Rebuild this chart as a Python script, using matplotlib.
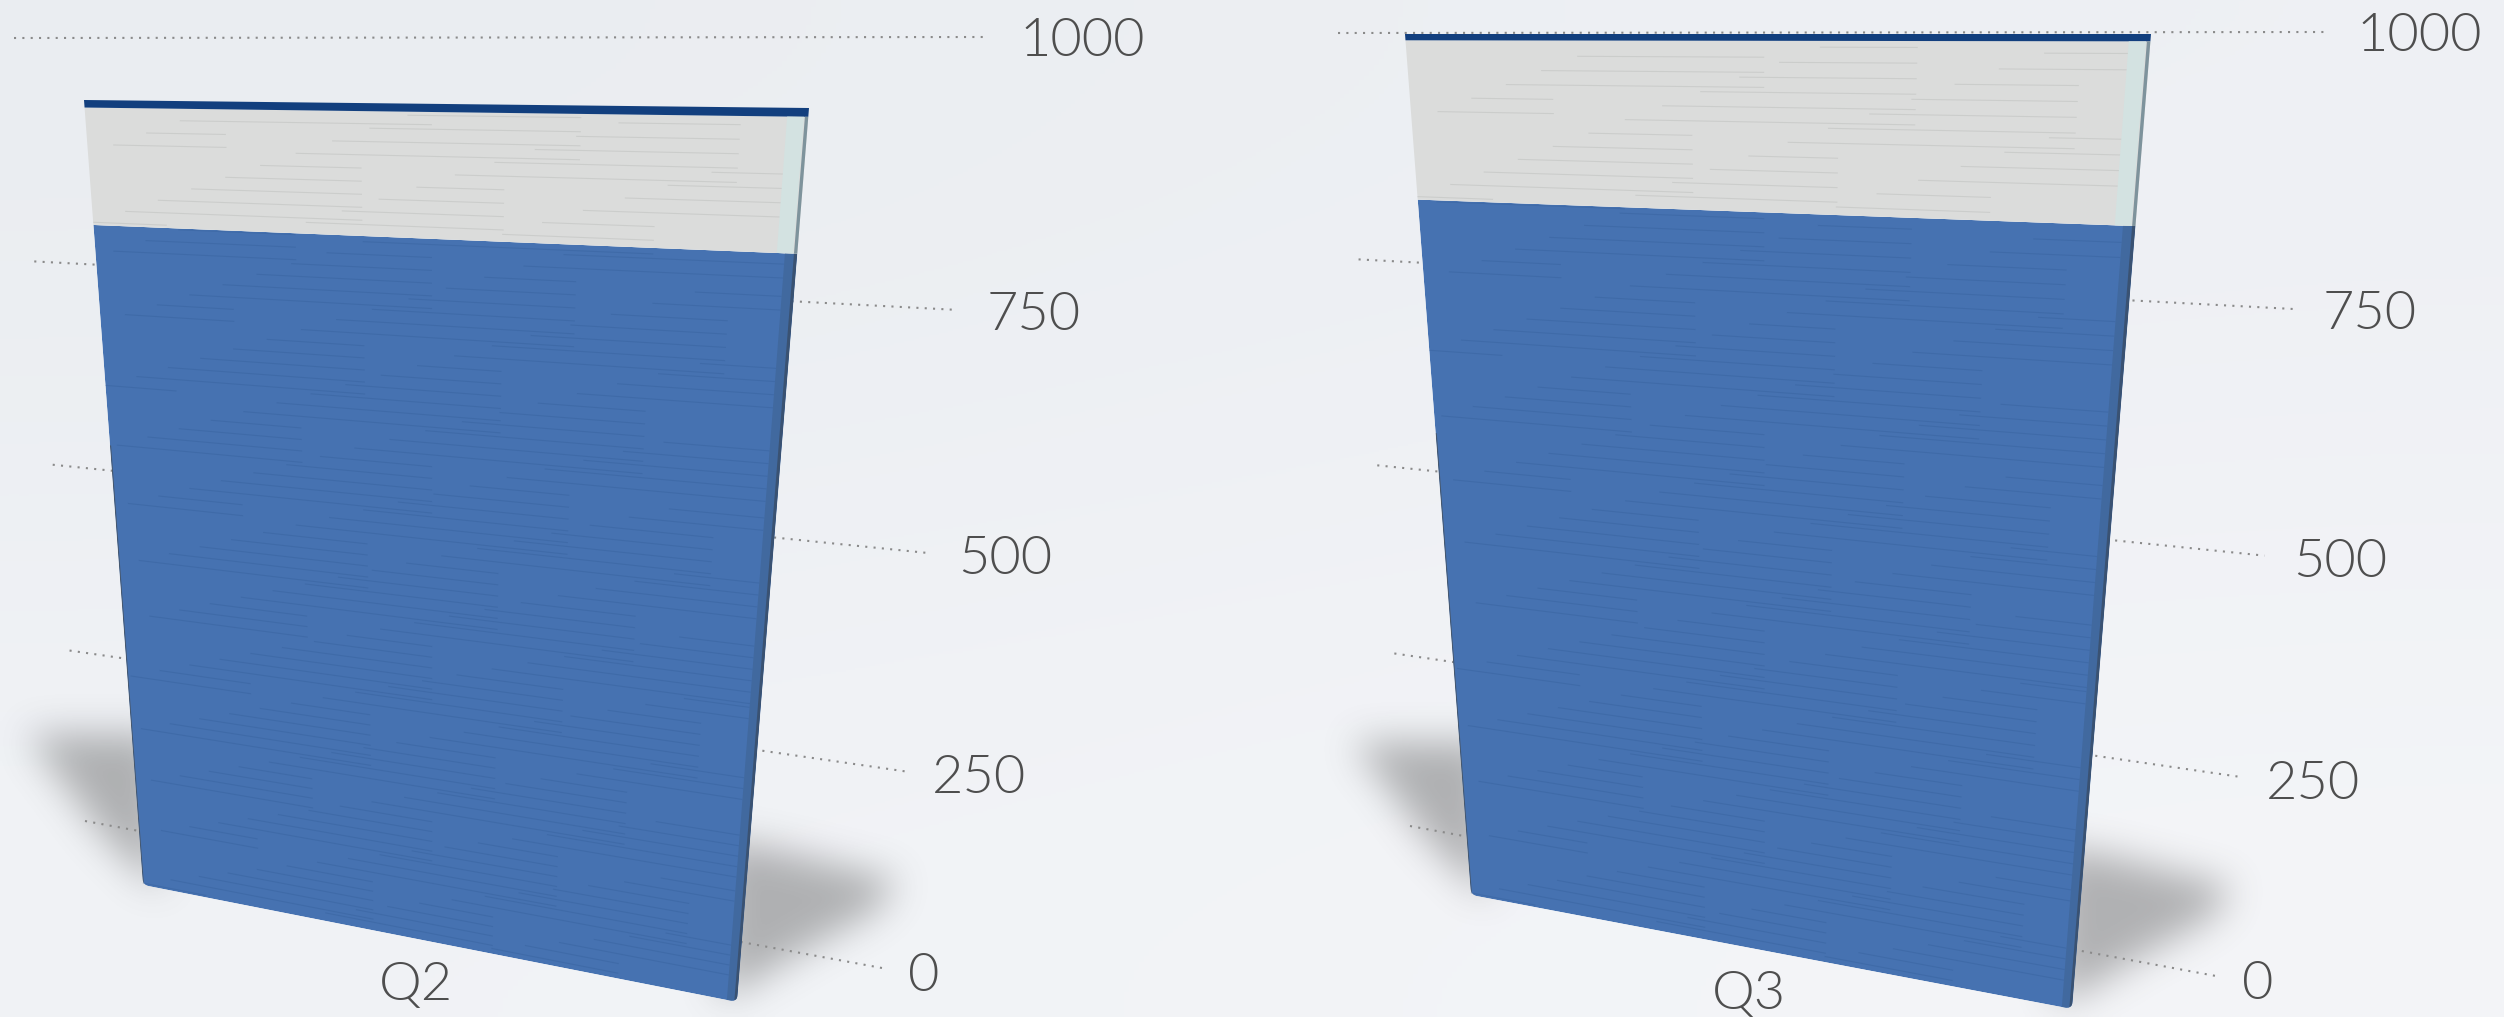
import numpy as np
import matplotlib
matplotlib.use("Agg")
import matplotlib.pyplot as plt
from matplotlib.path import Path
from matplotlib.transforms import Transform

# ---- data ----
categories = ["Q2", "Q3"]
blue_values = [864, 837]
grey_values = [128, 157]
dark_values = [8, 6]
tick_values = [0, 250, 500, 750, 1000]

# ---- perspective planes: (bottom-left, bottom-right, top-right, top-left) in pixels ----
bar_planes = [
    [(143, 885), (737, 1002), (809, 108), (84, 100)],
    [(1471, 895), (2072, 1009), (2151, 34), (1405, 34)],
]
wall_planes = [
    [(85, 821), (882, 968), (989, 37), (14, 38)],
    [(1410, 826), (2216, 976), (2325, 32), (1338, 33)],
]

W, H = 2504, 1017
BLUE, GREY, DARK = "#4672B1", "#DBDCDB", "#123F7E"
TEXT = "#4E4E4E"


class Homography(Transform):
    input_dims = 2
    output_dims = 2
    is_separable = False
    has_inverse = False

    def __init__(self, dst, vmax=1000.0):
        super().__init__()
        src = [(0, 0), (1, 0), (1, vmax), (0, vmax)]
        A, b = [], []
        for (x, y), (X, Y) in zip(src, dst):
            A.append([x, y, 1, 0, 0, 0, -x * X, -y * X]); b.append(X)
            A.append([0, 0, 0, x, y, 1, -x * Y, -y * Y]); b.append(Y)
        self.m = np.append(np.linalg.solve(np.array(A, float), np.array(b, float)), 1).reshape(3, 3)

    def transform_non_affine(self, values):
        v = np.asarray(values, float)
        p = np.c_[v, np.ones(len(v))] @ self.m.T
        return p[:, :2] / p[:, 2:3]


def blurred_mask(poly, radius=18, step=4):
    xs = np.arange(0, W, step) + step / 2
    ys = np.arange(0, H, step) + step / 2
    gx, gy = np.meshgrid(xs, ys)
    mask = Path(poly).contains_points(np.c_[gx.ravel(), gy.ravel()]).reshape(gx.shape).astype(float)
    n = max(1, int(radius / step))
    kernel = np.ones(2 * n + 1) / (2 * n + 1)
    for _ in range(3):
        mask = np.apply_along_axis(np.convolve, 0, mask, kernel, "same")
        mask = np.apply_along_axis(np.convolve, 1, mask, kernel, "same")
    return mask


def rounded_bottom(top, ru=0.012, rv=9):
    """Outline of a slab with rounded lower corners, in bar coordinates."""
    verts = [(0, top), (0, rv), (0, 0), (ru, 0), (1 - ru, 0), (1, 0), (1, rv), (1, top), (0, top)]
    codes = [Path.MOVETO, Path.LINETO, Path.CURVE3, Path.CURVE3, Path.LINETO,
             Path.CURVE3, Path.CURVE3, Path.LINETO, Path.CLOSEPOLY]
    return Path(verts, codes)


plt.rcParams["font.family"] = ["Lato", "DejaVu Sans"]
fig = plt.figure(figsize=(W / 100, H / 100), dpi=100)
ax = fig.add_axes([0, 0, 1, 1])

# background wash
bg = np.array([[[234, 237, 241], [238, 240, 244]],
               [[241, 243, 246], [244, 245, 248]]], dtype=float) / 255
ax.imshow(bg, extent=(0, W, H, 0), interpolation="bicubic", aspect="auto", zorder=0)
ax.set_xlim(0, W)
ax.set_ylim(H, 0)
ax.axis("off")

# shadows (relative to each bar's lower corners)
for plane in bar_planes:
    (blx, bly), (brx, bry) = plane[0], plane[1]
    left = [(blx - 117, bly - 150), (blx + 15, bly - 150), (blx + 15, bly + 5), (blx - 45, bly - 55)]
    right = [(brx - 15, bry - 160), (brx + 60, bry - 145), (brx + 160, bry - 120),
             (brx + 140, bry - 90), (brx + 60, bry - 45), (brx - 15, bry)]
    for poly in (left, right):
        m = blurred_mask(poly)
        rgba = np.zeros(m.shape + (4,))
        rgba[..., :3] = 0.30
        rgba[..., 3] = m * 0.40
        ax.imshow(rgba, extent=(0, W, H, 0), interpolation="bilinear", aspect="auto", zorder=1)
ax.set_xlim(0, W)
ax.set_ylim(H, 0)

for i, cat in enumerate(categories):
    T_bar = Homography(bar_planes[i]) + ax.transData
    T_wall = Homography(wall_planes[i]) + ax.transData

    # dotted gridlines on the back wall with tick labels
    for v in tick_values:
        ax.plot([0, 1], [v, v], transform=T_wall, color="#8A8A8A", lw=1.5,
                ls=(0, (1, 3)), zorder=2)
        ax.annotate(str(v), xy=(1.018, v), xycoords=T_wall, xytext=(6.5, -3.5),
                    textcoords="offset points", color=TEXT, fontsize=39, fontweight=300,
                    ha="left", va="center", zorder=5, annotation_clip=False)

    # stacked bar
    blue, grey, dark = blue_values[i], grey_values[i], dark_values[i]
    clip = rounded_bottom(blue)
    parts = [
        ax.bar(0.5, blue, width=1, color=BLUE, lw=0, transform=T_bar, zorder=3),
        ax.bar(0.9925, blue, width=0.015, color="#41699F", lw=0, transform=T_bar, zorder=3.4),
        ax.bar(0.998, blue, width=0.004, color="#3A5272", lw=0, transform=T_bar, zorder=3.5),
        ax.bar(0.001, blue * 0.7, width=0.002, color="#46586E", lw=0, transform=T_bar, zorder=3.5),
    ]
    for container in parts:
        for patch in container:
            patch.set_clip_path(clip, transform=T_bar)
    ax.bar(0.5, grey, width=1, bottom=blue, color=GREY, lw=0, transform=T_bar, zorder=3)
    ax.bar(0.5, dark, width=1, bottom=blue + grey, color=DARK, lw=0, transform=T_bar, zorder=3)
    ax.bar(0.985, grey, width=0.02, bottom=blue, color="#D3E2E1", lw=0, transform=T_bar, zorder=3.4)
    ax.bar(0.998, grey, width=0.004, bottom=blue, color="#7E939C", lw=0, transform=T_bar, zorder=3.5)

    # woven streak texture on both segments
    for lo, hi, col, alpha in ((0, blue, "#2F5A94", 0.30), (blue, blue + grey, "#B9BBB9", 0.45)):
        levels = np.arange(lo + 3, hi - 1, 4.5)
        for k, v in enumerate(levels):
            start = (k * 0.618) % 0.9
            ax.hlines(v, start, min(start + 0.12 + (k * 0.382) % 0.3, 0.985), color=col,
                      lw=0.8, alpha=alpha, transform=T_bar, zorder=3.2)

    # category label under the bar
    ax.annotate(cat, xy=(0.5, 0), xycoords=T_bar, xytext=(-3, -33), textcoords="offset points",
                color=TEXT, fontsize=39, fontweight=300, ha="center", va="center", zorder=5,
                annotation_clip=False)

fig.savefig("out.png", dpi=100)
